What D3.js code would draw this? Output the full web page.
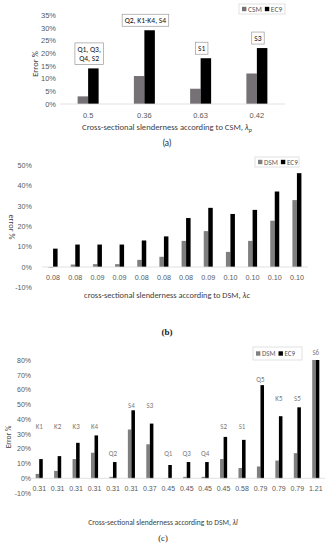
<!DOCTYPE html>
<html>
<head>
<meta charset="utf-8">
<title>Error vs cross-sectional slenderness</title>
<style>
body { margin:0; background:#fff; }
svg { display:block; font-family: Carlito, Lato, "Open Sans", sans-serif; -webkit-font-smoothing: antialiased; }
svg text { fill-opacity: 1; }
</style>
</head>
<body>
<svg id="fig" width="327" height="550"></svg>
<script src="https://d3js.org/d3.v7.min.js"></script>
<script>
// (a) CSM vs EC9
var catA = ["0.5", "0.36", "0.63", "0.42"];
var csmA = [3, 11, 6, 12];
var ec9A = [14, 29, 18, 22];
var tagA = [["Q1, Q3,", "Q4, S2"], ["Q2, K1-K4, S4"], ["S1"], ["S3"]];
var ticksA = [0, 5, 10, 15, 20, 25, 30, 35];

// (b) DSM vs EC9, local slenderness
var catB = ["0.08","0.08","0.09","0.09","0.08","0.08","0.08","0.09","0.10","0.10","0.10","0.10"];
var dsmB = [-0.3, 1.2, 1.4, 1.4, 3.5, 5, 12.8, 17.6, 7.4, 12.8, 22.7, 32.8];
var ec9B = [9, 11, 11, 11, 13, 15, 24, 29, 26, 28, 37, 46];
var ticksB = [-10, 0, 10, 20, 30, 40, 50];

// (c) DSM vs EC9, distortional slenderness
var catC = ["0.31","0.31","0.31","0.31","0.31","0.31","0.37","0.45","0.45","0.45","0.45","0.58","0.79","0.79","0.79","1.21"];
var dsmC = [3, 5, 13, 17.3, 1, 33, 23, -0.2, 1, 1, 13, 7, 8, 12, 17, 80];
var ec9C = [13, 15, 24, 29, 11, 46, 37, 9, 11, 11, 28, 26, 63, 42, 48, 80];
var tagC = ["K1","K2","K3","K4","Q2","S4","S3","Q1","Q3","Q4","S2","S1","Q5","K5","S5","S6"];
var tagLevelC = [35, 35, 35, 35, 17, 49, 49, 17, 17, 17, 35, 35, 67, 54, 54, 85]; // where the names sit, in % units
var ticksC = [-10, 0, 10, 20, 30, 40, 50, 60, 70, 80];

var svg = d3.select("#fig");
var GREY = "#7f7f7f", TXT = "#595959";

function panel(o) {
	var g = svg.append("g");
	var x0 = d3.scaleBand().domain(d3.range(o.cats.length)).range([o.left, o.right]);
	var x1 = d3.scaleBand().domain([0, 1]).range([0, x0.bandwidth()]).paddingOuter(o.pad);
	var y = d3.scaleLinear().domain([o.ticks[0], o.ticks[o.ticks.length - 1]]).range([o.bot, o.top]);

	var ya = g.append("g").attr("transform", "translate(" + o.tickX + ",0)")
		.call(d3.axisLeft(y).tickValues(o.ticks).tickFormat(function(d){ return d + "%"; }).tickSize(0).tickPadding(0));
	ya.select(".domain").remove();
	ya.selectAll("text").attr("fill", TXT).attr("font-size", o.fs).attr("font-family", null);

	// bars
	o.series.forEach(function(s, k) {
		g.selectAll(null).data(s.vals).join("rect")
			.attr("x", function(d, i){ return x0(i) + x1(k); })
			.attr("width", x1.bandwidth())
			.attr("y", function(d){ return y(Math.max(0, d)); })
			.attr("height", function(d){ return Math.abs(y(d) - y(0)); })
			.attr("fill", s.color);
	});

	g.append("line").attr("x1", o.left).attr("x2", o.right)
		.attr("y1", y(0)).attr("y2", y(0)).attr("stroke", "#d9d9d9").attr("stroke-width", 0.8);

	var xa = g.append("g").attr("transform", "translate(0," + o.catY + ")")
		.call(d3.axisBottom(x0).tickFormat(function(i){ return o.cats[i]; }).tickSize(0).tickPadding(0));
	xa.select(".domain").remove();
	xa.selectAll("text").attr("fill", TXT).attr("font-size", o.fs).attr("font-family", null).attr("dy", "0.35em");

	// y title
	g.append("text").attr("transform", "translate(" + o.yTitle[0] + "," + o.yTitle[1] + ") rotate(" + o.yTitle[2] + ")")
		.attr("text-anchor", "middle").attr("dy", "0.35em").attr("font-size", o.fsT).attr("fill", "#404040")
		.text(o.yLabel);

	// x title with lambda
	var t = g.append("text").attr("x", o.xTitle[0]).attr("y", o.xTitle[1]).attr("text-anchor", "middle")
		.attr("font-size", o.fsT).attr("fill", "#404040");
	t.append("tspan").text(o.xLabel);
	t.append("tspan").attr("font-style", "italic").text("λ");
	t.append("tspan").attr("font-style", "italic").attr("font-size", o.fsT * (o.subSmall ? 0.7 : 1))
		.attr("baseline-shift", o.subSmall ? "-25%" : null).text(o.sub);

	// caption
	g.append("text").attr("x", o.cap[0]).attr("y", o.cap[1]).attr("text-anchor", "middle")
		.attr("font-size", o.cap[2]).attr("font-family", o.cap[3]).attr("font-weight", o.cap[4])
		.attr("fill", "#222").text(o.capText);

	// legend
	var L = o.legend;
	g.append("rect").attr("x", L[0]).attr("y", L[1]).attr("width", L[2]).attr("height", L[3])
		.attr("fill", "#fff").attr("stroke", "#d9d9d9").attr("stroke-width", 0.8);
	var lx = L[0] + 3;
	o.series.forEach(function(s) {
		g.append("rect").attr("x", lx).attr("y", L[1] + L[3] / 2 - 2.2).attr("width", 4.4).attr("height", 4.4).attr("fill", s.color);
		var tt = g.append("text").attr("x", lx + 6).attr("y", L[1] + L[3] / 2).attr("dy", "0.35em")
			.attr("font-size", o.fs).attr("fill", TXT).text(s.name);
		lx += 6 + tt.node().getComputedTextLength() + 3;
	});

	return { g: g, x0: x0, x1: x1, y: y };
}

// ---- (a)
var A = panel({
	cats: catA, ticks: ticksA, left: 60, right: 285, top: 15, bot: 104, pad: 1.68,
	tickX: 56, catY: 115, fs: 7.5, fsT: 8.6,
	series: [{ name: "CSM", vals: csmA, color: "#757175" }, { name: "EC9", vals: ec9A, color: "#000" }],
	yLabel: "Error %", yTitle: [35, 64, -90],
	xLabel: "Cross-sectional slenderness according to CSM, ", sub: "p", subSmall: true, xTitle: [167, 130],
	cap: [167, 146, 8.5, "Lato, sans-serif", "normal"], capText: "(a)",
	legend: [239, 4, 46, 10]
});
A.g.selectAll(null).data(tagA).join("g").each(function(lines, i) {
	var gg = d3.select(this);
	var cx = A.x0(i) + A.x0.bandwidth() / 2 + 1;
	var bottom = A.y(ec9A[i]) - 4;
	var lh = 9.5;
	var tx = gg.append("text").attr("text-anchor", "middle").attr("font-size", 7.6).attr("fill", "#111");
	lines.forEach(function(s, j) {
		tx.append("tspan").attr("x", cx).attr("y", bottom - 3 - (lines.length - 1 - j) * lh).text(s);
	});
	var bb = tx.node().getBBox();
	gg.insert("rect", "text").attr("x", bb.x - 2.5).attr("y", bb.y - 2).attr("width", bb.width + 5).attr("height", bottom - bb.y + 2)
		.attr("fill", "#fff").attr("stroke", "#9a9a9a").attr("stroke-width", 0.7);
});

// ---- (b)
panel({
	cats: catB, ticks: ticksB, left: 42, right: 308, top: 165, bot: 287.4, pad: 1.46,
	tickX: 32, catY: 277, fs: 7.2, fsT: 8.4,
	series: [{ name: "DSM", vals: dsmB, color: GREY }, { name: "EC9", vals: ec9B, color: "#000" }],
	yLabel: "error %", yTitle: [12, 227, 90],
	xLabel: "cross-sectional slenderness according to DSM, ", sub: "c", subSmall: false, xTitle: [167, 298],
	cap: [167, 335, 9, "'Liberation Serif', serif", "bold"], capText: "(b)",
	legend: [255, 157, 44, 10]
});

// ---- (c)
var C = panel({
	cats: catC, ticks: ticksC, left: 30, right: 325, top: 360, bot: 493.1, pad: 1.6,
	tickX: 31, catY: 489, fs: 7, fsT: 7.6,
	series: [{ name: "DSM", vals: dsmC, color: GREY }, { name: "EC9", vals: ec9C, color: "#000" }],
	yLabel: "Error %", yTitle: [8, 437, -90],
	xLabel: "Cross-sectional slenderness according to DSM, ", sub: "l", subSmall: false, xTitle: [163, 525],
	cap: [163, 541, 8.5, "'Liberation Serif', serif", "normal"], capText: "(c)",
	legend: [253, 347, 49, 13]
});
C.g.selectAll(null).data(tagC).join("text")
	.attr("x", function(d, i){ return C.x0(i) + C.x0.bandwidth() / 2; })
	.attr("y", function(d, i){ return C.y(tagLevelC[i]); })
	.attr("dy", "0.35em").attr("text-anchor", "middle")
	.attr("font-size", 7).attr("fill", "#7a7a7a").text(function(d){ return d; });
</script>
</body>
</html>
